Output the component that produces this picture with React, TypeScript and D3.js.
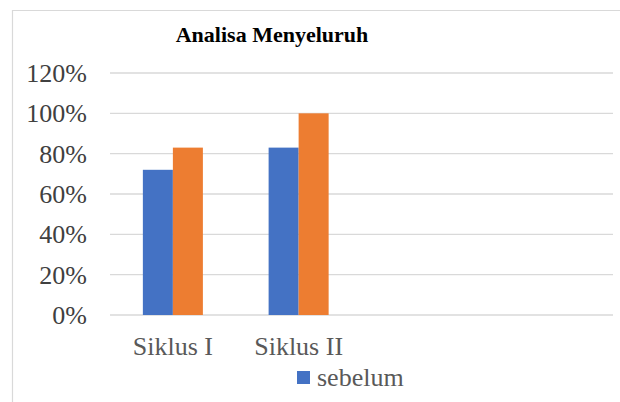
import React from 'react';
import * as d3 from 'd3';

// chart values
const categories = ['Siklus I', 'Siklus II', '', ' '];
const seriesNames = ['sebelum', 'sesudah'];
const sebelum = [0.72, 0.83, null, null];
const sesudah = [0.83, 1.0, null, null];
const yTicks = [0, 0.2, 0.4, 0.6, 0.8, 1.0, 1.2];
const legendItems = ['sebelum'];

const colors = ['#4472C4', '#ED7D31'];

const App = () => {
  const width = 620;
  const height = 402;
  const margin = { top: 73, right: 7, bottom: 87, left: 110 };

  const x0 = d3
    .scaleBand<string>()
    .domain(categories)
    .range([margin.left, width - margin.right])
    .padding(0);

  const x1 = d3
    .scaleBand<string>()
    .domain(seriesNames)
    .range([0, x0.bandwidth()])
    .paddingInner(0)
    .paddingOuter(1.095);

  const y = d3
    .scaleLinear()
    .domain([0, 1.2])
    .range([height - margin.bottom, margin.top]);

  const series = [sebelum, sesudah];
  const fmt = d3.format('.0%');

  return (
    <div style={{ position: 'absolute', left: 0, top: 0 }}>
      <svg width={width} height={height} fontFamily="Liberation Serif">
        <rect width={width} height={height} fill="#fff" />
        {/* chart frame */}
        <path d={`M12.5,${height} V10.5 H${width}`} fill="none" stroke="#d9d9d9" strokeWidth={1.2} />

        <text x={272} y={42} textAnchor="middle" fontWeight="bold" fontSize={22} fill="#000">
          Analisa Menyeluruh
        </text>

        {/* gridlines + y labels */}
        {yTicks.map((t) => (
          <g key={t}>
            <line
              x1={margin.left}
              x2={width - margin.right}
              y1={y(t)}
              y2={y(t)}
              stroke="#d9d9d9"
              strokeWidth={1.3}
            />
            <text x={87} y={y(t)} dy="0.35em" textAnchor="end" fontSize={26} fill="#404040">
              {fmt(t)}
            </text>
          </g>
        ))}

        {/* bars */}
        {series.map((vals, si) =>
          vals.map((v, ci) =>
            v == null ? null : (
              <rect
                key={`${si}-${ci}`}
                x={(x0(categories[ci]) as number) + (x1(seriesNames[si]) as number)}
                y={y(v)}
                width={x1.bandwidth()}
                height={y(0) - y(v)}
                fill={colors[si]}
              />
            )
          )
        )}

        {/* x labels */}
        {categories.map((c) => (
          <text
            key={c}
            x={(x0(c) as number) + x0.bandwidth() / 2}
            y={355}
            textAnchor="middle"
            fontSize={26}
            fill="#595959"
          >
            {c.trim()}
          </text>
        ))}

        {/* legend */}
        {legendItems.map((name, i) => (
          <g key={name} transform="translate(297,371)">
            <rect width={13} height={13} fill={colors[i]} />
            <text x={20} y={15} fontSize={26} fill="#595959">
              {name}
            </text>
          </g>
        ))}
      </svg>
    </div>
  );
};

export default App;
